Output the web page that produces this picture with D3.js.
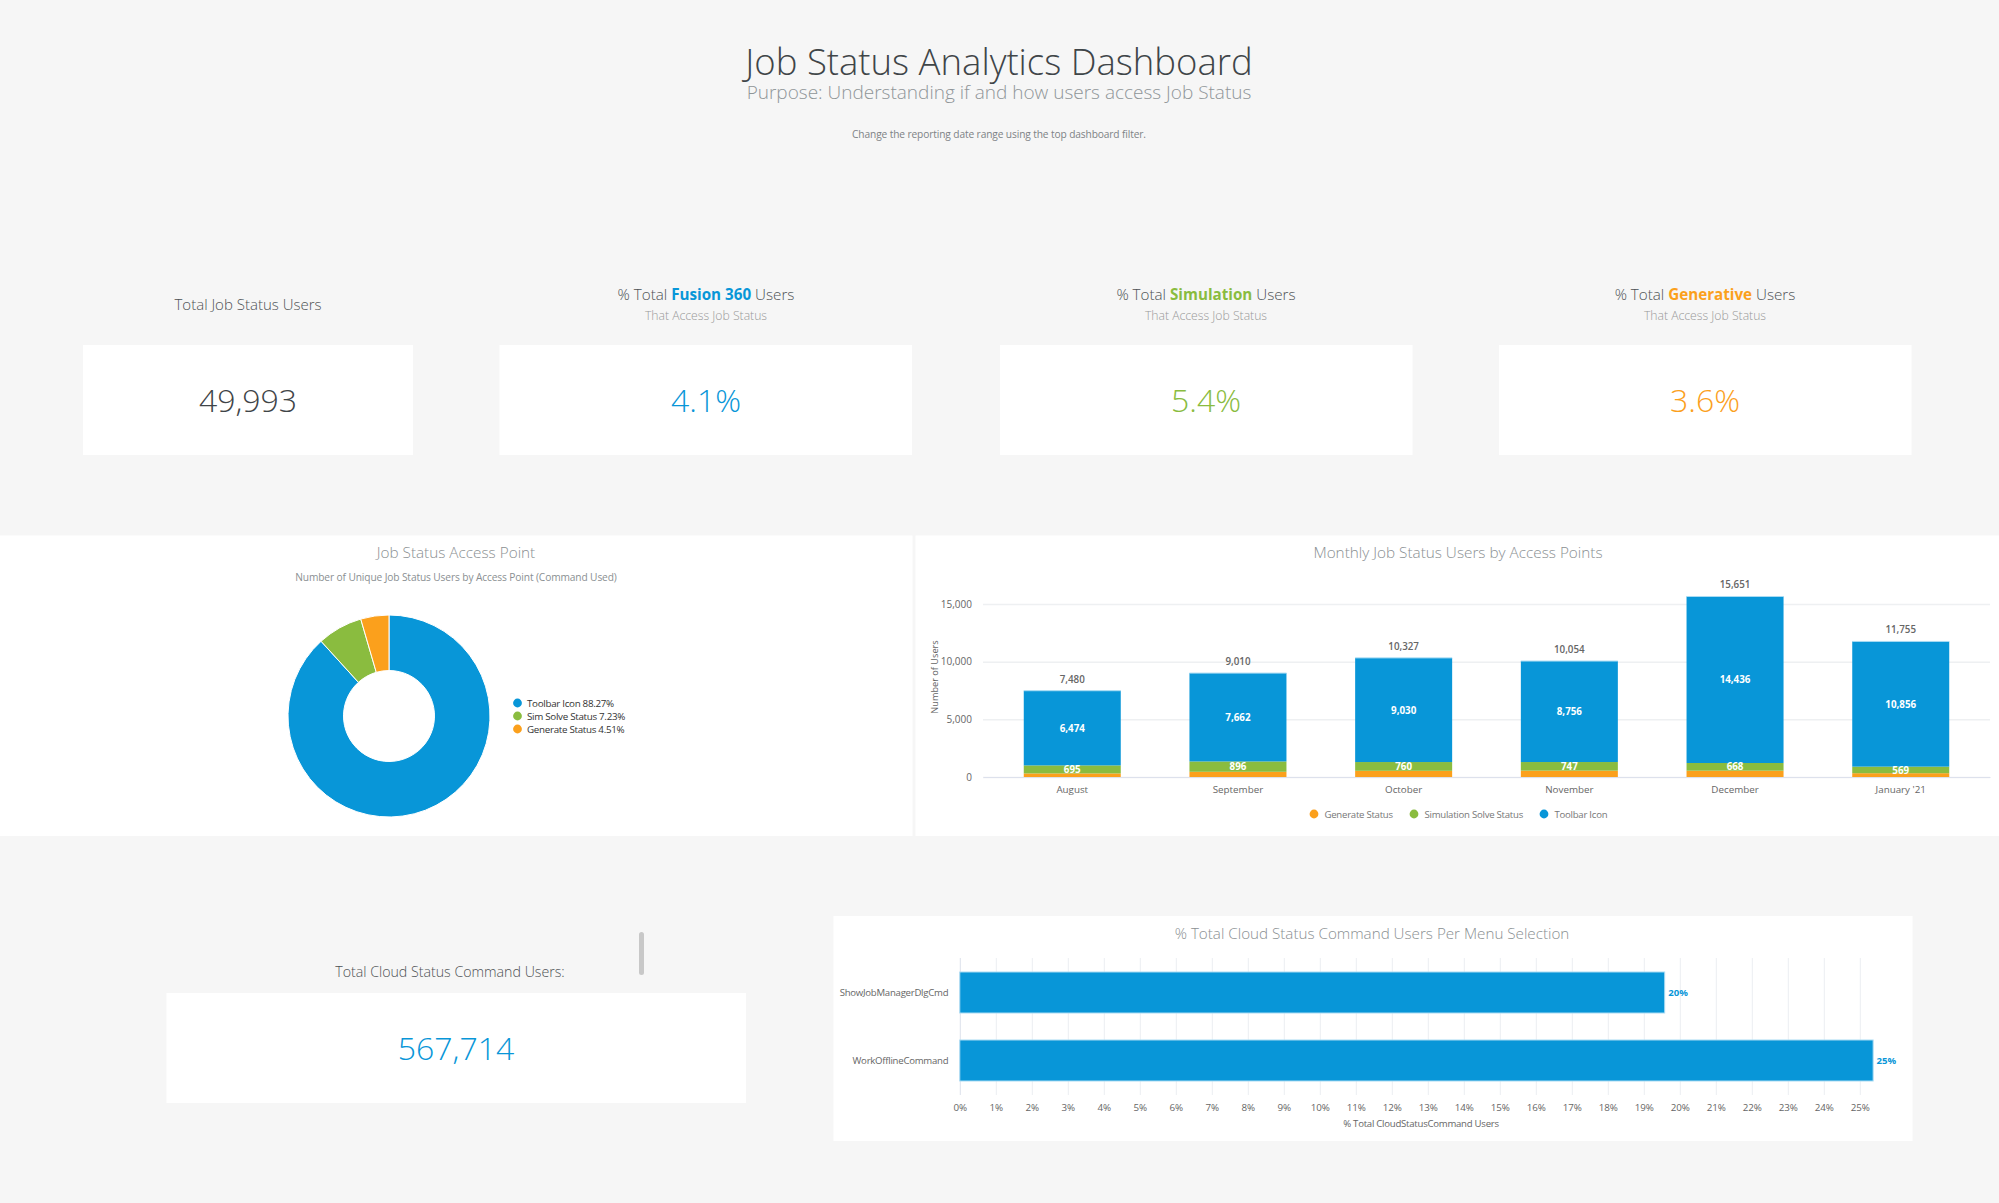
<!DOCTYPE html>
<html>
<head>
<meta charset="utf-8">
<title>Job Status Analytics Dashboard</title>
<script src="https://cdn.jsdelivr.net/npm/d3@7"></script>
<style>
  html, body { margin: 0; background: #f6f6f6; }
  svg { display: block; font-family: "Open Sans", sans-serif; }
  .axis text { font-family: "Open Sans", sans-serif; fill: #666; }
</style>
</head>
<body>
<script>
// colores
const azul = "#0896d8", verde = "#8abc3f", naranja = "#fba01c";

// tarjetas
const kpiNombres = ["Fusion 360", "Simulation", "Generative"];
const kpiValores = ["4.1%", "5.4%", "3.6%"];
const kpiColores = [azul, verde, naranja];

// dona
const accesoNombres = ["Toolbar Icon", "Sim Solve Status", "Generate Status"];
const accesoPct = [88.27, 7.23, 4.51];
const accesoColores = [azul, verde, naranja];

// barras apiladas por mes
const meses = ["August", "September", "October", "November", "December", "January '21"];
const generate = [311, 452, 537, 551, 547, 330];
const simulation = [695, 896, 760, 747, 668, 569];
const toolbar = [6474, 7662, 9030, 8756, 14436, 10856];
const totales = [7480, 9010, 10327, 10054, 15651, 11755];
const ticksUsuarios = [0, 5000, 10000, 15000];

// barras horizontales
const comandos = ["ShowJobManagerDlgCmd", "WorkOfflineCommand"];
const comandosPct = [19.58, 25.37];
const comandosEtiqueta = ["20%", "25%"];
const ticksPct = d3.range(0, 26);

const svg = d3.select("body").append("svg").attr("width", 1999).attr("height", 1203);

function texto(x, y, str, size, color, weight, anchor, espacio) {
  return svg.append("text")
    .attr("x", x).attr("y", y)
    .attr("text-anchor", anchor || "middle")
    .attr("font-size", size)
    .attr("font-weight", weight || 400)
    .attr("letter-spacing", espacio || 0)
    .attr("fill", color)
    .text(str);
}

function panel(x, y, w, h) {
  svg.append("rect").attr("x", x).attr("y", y).attr("width", w).attr("height", h).attr("fill", "#fff");
}

// cabecera
texto(999, 75, "Job Status Analytics Dashboard", 36.5, "#3f4548", 300);
texto(999, 98.5, "Purpose: Understanding if and how users access Job Status", 19, "#8f9598", 300);
texto(999, 138, "Change the reporting date range using the top dashboard filter.", 10.2, "#7d8285", 400, "middle", -0.12);

// tarjetas de arriba
texto(248, 310, "Total Job Status Users", 15, "#4d5154", 300);
panel(83, 345, 330, 110);
texto(248, 412, "49,993", 32, "#3f4548", 300);

const kpiX = d3.scaleOrdinal().domain(kpiNombres).range([706, 1206, 1705]);
const kpiIzq = [499.5, 1000, 1499];
kpiNombres.forEach((nombre, i) => {
  const cx = kpiX(nombre);
  const t = texto(cx, 300, "% Total ", 15.2, "#4d5154", 300);
  t.append("tspan").attr("font-weight", 700).attr("fill", kpiColores[i]).text(nombre);
  t.append("tspan").text(" Users");
  texto(cx, 320, "That Access Job Status", 12.2, "#999", 300);
  panel(kpiIzq[i], 345, 412.5, 110);
  texto(cx, 412, kpiValores[i], 32, kpiColores[i], 300);
});

// dona
panel(0, 535.5, 912.5, 300.5);
texto(456, 558, "Job Status Access Point", 15.3, "#8a8f92", 300);
texto(456, 581, "Number of Unique Job Status Users by Access Point (Command Used)", 10.2, "#8a8f92", 400, "middle", -0.12);

const pie = d3.pie().sort(null);
const arco = d3.arc().innerRadius(45.5).outerRadius(101);
svg.append("g").attr("transform", "translate(389,716)")
  .selectAll("path").data(pie(accesoPct)).join("path")
  .attr("d", arco)
  .attr("fill", (d, i) => accesoColores[i])
  .attr("stroke", "#fff").attr("stroke-width", 1);

accesoNombres.forEach((nombre, i) => {
  const y = 703 + i * 13;
  svg.append("circle").attr("cx", 517.5).attr("cy", y).attr("r", 4.4).attr("fill", accesoColores[i]);
  texto(527, y + 3.5, nombre + " " + accesoPct[i] + "%", 9.8, "#333", 400, "start", -0.3);
});

// barras apiladas
panel(915.5, 535.5, 1083.5, 300.5);
texto(1458, 558, "Monthly Job Status Users by Access Points", 15.3, "#8a8f92", 300);

const x = d3.scaleBand().domain(meses).range([983, 1990]).paddingInner(0.4146).paddingOuter(0.246);
const y = d3.scaleLinear().domain([0, 15000]).range([777, 604]);

const ejeY = svg.append("g").attr("class", "axis").attr("transform", "translate(983,0)")
  .call(d3.axisLeft(y).tickValues(ticksUsuarios).tickFormat(d3.format(",")).tickSize(-1007).tickPadding(11));
ejeY.select(".domain").remove();
ejeY.selectAll("line").attr("stroke", "#eef0f2").attr("stroke-width", 1.5);
ejeY.selectAll("text").attr("font-size", 10);

const ejeX = svg.append("g").attr("class", "axis").attr("transform", "translate(0,777)")
  .call(d3.axisBottom(x).tickSize(0).tickPadding(9));
ejeX.select(".domain").attr("stroke", "#dde1ec").attr("stroke-width", 1);
ejeX.selectAll("text").attr("font-size", 9.8);

const filas = meses.map((mes, i) => ({ mes, generate: generate[i], simulation: simulation[i], toolbar: toolbar[i] }));
const claves = ["generate", "simulation", "toolbar"];
const capas = d3.stack().keys(claves)(filas);
const colorCapa = d3.scaleOrdinal().domain(claves).range([naranja, verde, azul]);

svg.append("g").selectAll("g").data(capas).join("g")
  .attr("fill", d => colorCapa(d.key))
  .selectAll("rect").data(d => d).join("rect")
  .attr("x", d => x(d.data.mes))
  .attr("width", x.bandwidth())
  .attr("y", d => y(d[1]))
  .attr("height", d => y(d[0]) - y(d[1]));

// borde claro arriba de cada barra
svg.append("g").selectAll("line").data(meses).join("line")
  .attr("x1", d => x(d)).attr("x2", d => x(d) + x.bandwidth())
  .attr("y1", (d, i) => y(totales[i])).attr("y2", (d, i) => y(totales[i]))
  .attr("stroke", "#a9dbf3").attr("stroke-width", 1);

// etiquetas dentro de las capas, sin la de generate
capas.slice(1).forEach(capa => {
  svg.append("g").selectAll("text").data(capa).join("text")
    .attr("x", d => x(d.data.mes) + x.bandwidth() / 2)
    .attr("y", d => (y(d[0]) + y(d[1])) / 2 + 3.6)
    .attr("text-anchor", "middle")
    .attr("font-size", 9.8)
    .attr("font-weight", 700)
    .attr("fill", "#fff")
    .text(d => d3.format(",")(d.data[capa.key]));
});

svg.append("g").selectAll("text").data(meses).join("text")
  .attr("x", d => x(d) + x.bandwidth() / 2)
  .attr("y", (d, i) => y(totales[i]) - 8)
  .attr("text-anchor", "middle")
  .attr("font-size", 9.8)
  .attr("font-weight", 600)
  .attr("fill", "#666")
  .text((d, i) => d3.format(",")(totales[i]));

svg.append("text")
  .attr("transform", "translate(938,677) rotate(-90)")
  .attr("text-anchor", "middle")
  .attr("font-size", 9.2)
  .attr("fill", "#666")
  .text("Number of Users");

const leyendaNombres = ["Generate Status", "Simulation Solve Status", "Toolbar Icon"];
const leyendaX = [1314, 1414, 1544];
leyendaNombres.forEach((nombre, i) => {
  svg.append("circle").attr("cx", leyendaX[i]).attr("cy", 814).attr("r", 4.4).attr("fill", colorCapa(claves[i]));
  texto(leyendaX[i] + 10.5, 818, nombre, 9.6, "#777", 400, "start", -0.25);
});

// abajo a la izquierda
texto(450, 977, "Total Cloud Status Command Users:", 14.2, "#4d5154", 300);
panel(166.5, 993, 579.5, 110);
texto(456, 1059.5, "567,714", 32, azul, 300);
svg.append("rect").attr("x", 639).attr("y", 932).attr("width", 5).attr("height", 43).attr("rx", 2.5).attr("fill", "#c8c8c8");

// barras horizontales
panel(833.5, 916, 1079, 225);
texto(1372, 939, "% Total Cloud Status Command Users Per Menu Selection", 15.2, "#8a8f92", 300);

const xPct = d3.scaleLinear().domain([0, 25]).range([959.8, 1859.8]);
const yCmd = d3.scaleBand().domain(comandos).range([958.5, 1094.5]).paddingInner(0.397).paddingOuter(0.1985);

const ejePct = svg.append("g").attr("class", "axis").attr("transform", "translate(0,1095)")
  .call(d3.axisBottom(xPct).tickValues(ticksPct).tickFormat(d => d + "%").tickSize(-137).tickPadding(9));
ejePct.select(".domain").remove();
ejePct.selectAll("line").attr("stroke", "#eceef2").attr("stroke-width", 1);
ejePct.selectAll("text").attr("font-size", 9.8);
ejePct.select(".tick line").attr("stroke", "#dde1ec");

const ejeCmd = svg.append("g").attr("class", "axis").attr("transform", "translate(959.8,0)")
  .call(d3.axisLeft(yCmd).tickSize(0).tickPadding(11.5));
ejeCmd.select(".domain").remove();
ejeCmd.selectAll("text").attr("font-size", 9.6).attr("letter-spacing", -0.25);

svg.append("g").selectAll("rect").data(comandos).join("rect")
  .attr("x", xPct(0))
  .attr("y", d => yCmd(d))
  .attr("width", (d, i) => xPct(comandosPct[i]) - xPct(0))
  .attr("height", yCmd.bandwidth())
  .attr("fill", azul)
  .attr("stroke", "#a9dbf3").attr("stroke-width", 1);

svg.append("g").selectAll("text").data(comandos).join("text")
  .attr("x", (d, i) => xPct(comandosPct[i]) + 3.5)
  .attr("y", d => yCmd(d) + yCmd.bandwidth() / 2 + 3.5)
  .attr("font-size", 9.6)
  .attr("font-weight", 700)
  .attr("fill", azul)
  .text((d, i) => comandosEtiqueta[i]);

texto(1421, 1127, "% Total CloudStatusCommand Users", 9.6, "#666", 400, "middle", -0.25);
</script>
</body>
</html>
